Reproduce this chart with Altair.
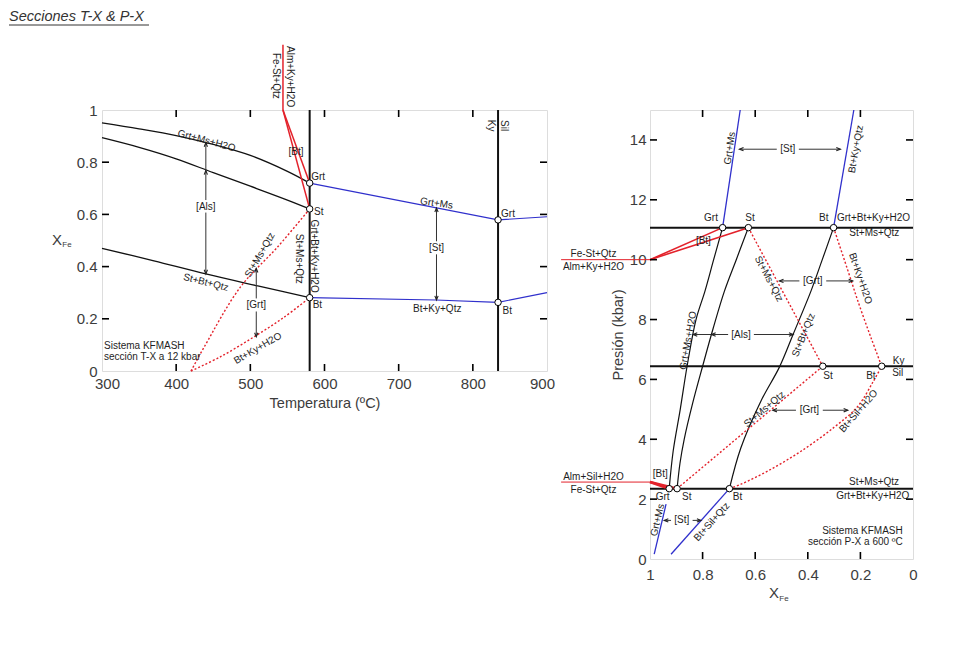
import altair as alt
import pandas as pd

FONT = "Liberation Sans"
INK = "#1e1e1e"
AXC = "#3c3c3c"
BLUE = "#3030cc"
RED = "#e3222b"

# ================= LEFT PANEL: T-X section at 12 kbar =================
L_t_ticks = [300, 400, 500, 600, 700, 800, 900]
L_x_ticks = [0, 0.2, 0.4, 0.6, 0.8, 1]
L_inner_t = [400, 500, 600, 700, 800]
L_inner_x = [0.2, 0.4, 0.6, 0.8]

L_grt_ms_h2o_T = [300, 350, 400, 450, 500, 550, 580]
L_grt_ms_h2o_X = [0.951, 0.928, 0.902, 0.868, 0.826, 0.765, 0.720]
L_als_T = [300, 350, 400, 450, 500, 550, 580]
L_als_X = [0.894, 0.857, 0.813, 0.760, 0.708, 0.655, 0.621]
L_st_bt_qtz_T = [300, 370, 440, 510, 580]
L_st_bt_qtz_X = [0.470, 0.422, 0.372, 0.326, 0.281]
L_vert_T = [580, 834]

L_grt_ms_T = [580, 834, 900]
L_grt_ms_X = [0.720, 0.579, 0.591]
L_bt_ky_qtz_T = [580, 750, 834, 900]
L_bt_ky_qtz_X = [0.281, 0.272, 0.263, 0.300]

L_fe_st_top_T = [544, 544]
L_fe_st_top_X = [1.25, 1.0]
L_fe_st_a_T = [544, 580]
L_fe_st_a_X = [1.0, 0.720]
L_fe_st_b_T = [544, 580]
L_fe_st_b_X = [1.0, 0.621]

L_st_ms_qtz_T = [420, 438, 487, 537, 580]
L_st_ms_qtz_X = [0.0, 0.093, 0.323, 0.476, 0.621]
L_bt_ky_h2o_T = [420, 460, 505, 545, 580]
L_bt_ky_h2o_X = [0.0, 0.055, 0.131, 0.205, 0.281]

L_pts_T = [580, 580, 580, 834, 834]
L_pts_X = [0.720, 0.621, 0.281, 0.579, 0.263]

# arrow shafts: T, X, T2, X2
L_shafts = [
    [440, 0.372, 440, 0.607], [440, 0.655, 440, 0.875],
    [508, 0.131, 508, 0.228], [508, 0.278, 508, 0.393],
    [751, 0.272, 751, 0.447], [751, 0.497, 751, 0.625],
]
L_heads_T = [440, 440, 440, 508, 508, 751, 751]
L_heads_X = [0.875, 0.768, 0.372, 0.393, 0.131, 0.625, 0.272]
L_heads_dir = ["up", "up", "down", "up", "down", "up", "down"]

L_lab_c = ["Grt+Ms+H2O", "St+Bt+Qtz", "St+Ms+Qtz", "Bt+Ky+H2O", "St+Ms+Qtz",
           "Grt+Bt+Ky+H2O", "Grt+Ms", "Bt+Ky+Qtz", "[Als]", "[Grt]", "[St]",
           "[Bt]", "Ky", "Sil", "Alm+Ky+H2O", "Fe-St+Qtz"]
L_lab_c_T = [441, 440, 513, 510, 566, 585.5, 751, 752, 440, 508, 751,
             561.6, 824.5, 842.6, 554, 534.6]
L_lab_c_X = [0.882, 0.339, 0.444, 0.087, 0.43, 0.44, 0.642, 0.236, 0.63,
             0.253, 0.471, 0.84, 0.94, 0.94, 1.128, 1.131]
L_lab_c_ang = [15, 14, 300, 330, 90, 90, 8, 0, 0, 0, 0, 0, 90, 90, 90, 90]

L_lab_l = ["Grt", "St", "Bt", "Grt", "Bt", "Sistema KFMASH", "sección T-X a 12 kbar"]
L_lab_l_T = [582, 586, 584, 838, 840, 302.7, 302.7]
L_lab_l_X = [0.745, 0.61, 0.253, 0.60, 0.23, 0.096, 0.054]

# ================= RIGHT PANEL: P-X section at 600 ºC =================
R_x_ticks = [0, 0.2, 0.4, 0.6, 0.8, 1]
R_p_ticks = [0, 2, 4, 6, 8, 10, 12, 14]
R_inner_x = [0.2, 0.4, 0.6, 0.8]
R_inner_p = [2, 4, 6, 8, 10, 12, 14]

R_horiz_P = [11.07, 6.44, 2.35]

R_grt_ms_h2o_X = [0.927, 0.912, 0.885, 0.859, 0.825, 0.791, 0.758, 0.724]
R_grt_ms_h2o_P = [2.35, 3.6, 5.0, 6.44, 8.0, 8.95, 10.0, 11.07]
R_als2_X = [0.897, 0.886, 0.870, 0.838, 0.800, 0.760, 0.717, 0.672, 0.626]
R_als2_P = [2.35, 3.2, 4.0, 5.2, 6.44, 7.7, 8.95, 10.0, 11.07]
R_st_bt_qtz_X = [0.698, 0.655, 0.578, 0.508, 0.456, 0.388, 0.345, 0.302]
R_st_bt_qtz_P = [2.35, 3.7, 5.28, 6.41, 7.5, 8.95, 10.0, 11.07]

R_grt_ms_top_X = [0.724, 0.657]
R_grt_ms_top_P = [11.07, 15.0]
R_bt_ky_qtz_X = [0.302, 0.225]
R_bt_ky_qtz_P = [11.07, 15.0]
R_grt_ms_bot_X = [0.984, 0.939]
R_grt_ms_bot_P = [0.16, 1.83]
R_bt_sil_qtz_X = [0.920, 0.698]
R_bt_sil_qtz_P = [0.16, 2.35]

R_red_top_out_X = [1.338, 1.0]
R_red_top_out_P = [10.0, 10.0]
R_red_top_a_X = [1.0, 0.724]
R_red_top_a_P = [10.0, 11.07]
R_red_top_b_X = [1.0, 0.626]
R_red_top_b_P = [10.0, 11.07]
R_red_bot_out_X = [1.338, 1.0]
R_red_bot_out_P = [2.57, 2.57]
R_red_bot_a_X = [1.0, 0.927]
R_red_bot_a_P = [2.57, 2.35]
R_red_bot_b_X = [1.0, 0.897]
R_red_bot_b_P = [2.57, 2.35]

R_dot1_X = [0.897, 0.343]
R_dot1_P = [2.35, 6.44]
R_dot2_X = [0.698, 0.654, 0.55, 0.426, 0.30, 0.21, 0.153, 0.119]
R_dot2_P = [2.35, 2.5, 2.95, 3.6, 4.4, 5.1, 5.9, 6.44]
R_dot3_X = [0.626, 0.343]
R_dot3_P = [11.07, 6.44]
R_dot4_X = [0.302, 0.25, 0.205, 0.16, 0.119]
R_dot4_P = [11.07, 9.7, 8.5, 7.4, 6.44]

R_pts_X = [0.724, 0.626, 0.302, 0.343, 0.119, 0.927, 0.897, 0.698]
R_pts_P = [11.07, 11.07, 11.07, 6.44, 6.44, 2.35, 2.35, 2.35]

R_shafts = [
    [0.660, 13.69, 0.518, 13.69], [0.434, 13.69, 0.276, 13.69],
    [0.508, 9.29, 0.432, 9.29], [0.330, 9.29, 0.229, 9.29],
    [0.533, 4.97, 0.445, 4.97], [0.343, 4.97, 0.248, 4.97],
    [0.946, 1.29, 0.920, 1.29], [0.838, 1.29, 0.806, 1.29],
    [0.836, 7.5, 0.703, 7.5], [0.605, 7.5, 0.456, 7.5],
]
R_heads_X = [0.660, 0.276, 0.508, 0.229, 0.533, 0.248, 0.946, 0.806, 0.836, 0.766, 0.456]
R_heads_P = [13.69, 13.69, 9.29, 9.29, 4.97, 4.97, 1.29, 1.29, 7.5, 7.5, 7.5]
R_heads_dir = ["left", "right", "left", "right", "left", "right", "left", "right",
               "left", "left", "right"]

R_lab_c = ["Grt+Ms", "Bt+Ky+Qtz", "[St]", "Grt", "St", "Bt", "St+Ms+Qtz", "[Bt]",
           "Fe-St+Qtz", "Alm+Ky+H2O", "St+Ms+Qtz", "Bt+Ky+H2O", "[Grt]",
           "Grt+Ms+H2O", "[Als]", "St+Bt+Qtz", "Ky", "Sil", "St", "Bt",
           "St+Ms+Qtz", "[Grt]", "Bt+Sil+H2O", "[Bt]", "Alm+Sil+H2O", "Fe-St+Qtz",
           "Grt", "St", "Bt", "[St]", "Grt+Ms", "Bt+Sil+Qtz"]
R_lab_c_X = [0.696, 0.217, 0.476, 0.768, 0.62, 0.339, 0.147, 0.797,
             1.215, 1.215, 0.548, 0.2, 0.381,
             0.855, 0.654, 0.416, 0.055, 0.058, 0.323, 0.16,
             0.565, 0.394, 0.207, 0.961, 1.215, 1.215,
             0.952, 0.86, 0.667, 0.879, 0.971, 0.765]
R_lab_c_P = [13.72, 13.69, 13.69, 11.38, 11.38, 11.38, 10.9, 10.62,
             10.2, 9.77, 9.36, 9.37, 9.29,
             7.3, 7.5, 7.48, 6.62, 6.23, 6.13, 6.13,
             5.0, 4.97, 4.94, 2.83, 2.75, 2.3,
             2.08, 2.08, 2.08, 1.29, 1.3, 1.24]
R_lab_c_ang = [278, 280, 0, 0, 0, 0, 0, 0,
               0, 0, 62, 71, 0,
               280, 0, 292, 0, 0, 0, 0,
               320, 0, 311, 0, 0, 0,
               0, 0, 0, 0, 283, 312]

R_lab_l = ["Grt+Bt+Ky+H2O"]
R_lab_l_X = [0.289]
R_lab_l_P = [11.38]

R_lab_r = ["St+Ms+Qtz", "Grt+Bt+Ky+H2O", "Sistema KFMASH", "sección P-X a 600 ºC"]
R_lab_r_X = [0.053, 0.014, 0.039, 0.039]
R_lab_r_P = [2.57, 2.1, 0.936, 0.58]

# ================= helpers =================
HEAD_PATHS = {
    "up": "M-0.6,1.5L0,0L0.6,1.5",
    "down": "M-0.6,-1.5L0,0L0.6,-1.5",
    "left": "M1.5,-0.6L0,0L1.5,0.6",
    "right": "M-1.5,-0.6L0,0L-1.5,0.6",
}


def series_df(series):
    rows = []
    for name, hs, vs in series:
        for i, (a, b) in enumerate(zip(hs, vs)):
            rows.append({"id": name, "ord": i, "h": a, "v": b})
    return pd.DataFrame(rows)


def lines(series, H, V, color, width, dash=None, interp="linear"):
    kw = dict(color=color, strokeWidth=width, clip=False, interpolate=interp)
    if dash:
        kw["strokeDash"] = dash
    return alt.Chart(series_df(series)).mark_line(**kw).encode(
        x=H, y=V, detail="id:N", order="ord:Q")


def texts(labels, hs, vs, angs, H, V, align, size=10):
    df = pd.DataFrame({"label": labels, "h": hs, "v": vs, "ang": angs})
    return alt.Chart(df).mark_text(
        align=align, baseline="middle", fontSize=size, color=INK, font=FONT, clip=False
    ).encode(x=H, y=V, text="label:N", angle=alt.Angle("ang:Q", scale=None))


def shafts(segs, H, V):
    df = pd.DataFrame(segs, columns=["h", "v", "h2", "v2"])
    return alt.Chart(df).mark_rule(color="#333333", strokeWidth=1, clip=False).encode(
        x=H, y=V, x2=alt.X2("h2:Q"), y2=alt.Y2("v2:Q"))


def heads(hs, vs, dirs, H, V):
    df = pd.DataFrame({"h": hs, "v": vs, "dir": dirs})
    dom = list(HEAD_PATHS.keys())
    return alt.Chart(df).mark_point(
        filled=False, color="#222222", strokeWidth=1.1, size=30, opacity=1, clip=False
    ).encode(x=H, y=V, shape=alt.Shape("dir:N", scale=alt.Scale(
        domain=dom, range=[HEAD_PATHS[k] for k in dom]), legend=None))


def nodes(hs, vs, H, V):
    df = pd.DataFrame({"h": hs, "v": vs})
    return alt.Chart(df).mark_point(
        shape="circle", filled=True, fill="white", stroke="black", strokeWidth=1,
        size=42, opacity=1, clip=False).encode(x=H, y=V)


def inner_ticks(vals, H, V, W, Ht, L=7):
    dfh = pd.DataFrame({"h": vals[0]})
    dfv = pd.DataFrame({"v": vals[1]})
    rk = dict(color="black", strokeWidth=1.6)
    return [
        alt.Chart(dfh).mark_rule(**rk).encode(x=H, y=alt.value(Ht), y2=alt.value(Ht - L)),
        alt.Chart(dfh).mark_rule(**rk).encode(x=H, y=alt.value(0), y2=alt.value(L)),
        alt.Chart(dfv).mark_rule(**rk).encode(y=V, x=alt.value(0), x2=alt.value(L)),
        alt.Chart(dfv).mark_rule(**rk).encode(y=V, x=alt.value(W), x2=alt.value(W - L)),
    ]


def pix_text(txt, x, y, size, align="center", style="normal", color=INK):
    return alt.Chart(pd.DataFrame({"label": [txt]})).mark_text(
        align=align, baseline="middle", fontSize=size, fontStyle=style, color=color,
        font=FONT).encode(x=alt.value(x), y=alt.value(y), text="label:N")


axis_common = dict(ticks=False, domain=False, grid=False, labelFont=FONT,
                   labelFontSize=15, labelColor=AXC,
                   labelOverlap=False, titleFont=FONT, titleFontWeight="normal",
                   titleColor=AXC, titleFontSize=14.5)

# ================= LEFT CHART =================
LW, LH = 445, 261
HL = alt.X("h:Q", scale=alt.Scale(domain=[300, 900], nice=False, zero=False),
           axis=alt.Axis(values=L_t_ticks, format="d", labelPadding=5, labelFlush=True,
                         labelFlushOffset=7.5,
                         title="Temperatura (ºC)", titlePadding=5, **axis_common))
VL = alt.Y("v:Q", scale=alt.Scale(domain=[0, 1], nice=False),
           axis=alt.Axis(values=L_x_ticks, format="~g", labelPadding=5, title=None,
                         labelFlush=False, **axis_common))

left_layers = [
    lines([("a", L_grt_ms_h2o_T, L_grt_ms_h2o_X), ("b", L_als_T, L_als_X),
           ("c", L_st_bt_qtz_T, L_st_bt_qtz_X)], HL, VL, "#111111", 1.3,
          interp="catmull-rom"),
    lines([("v1", [L_vert_T[0]] * 2, [0, 1]), ("v2", [L_vert_T[1]] * 2, [0, 1])],
          HL, VL, "#111111", 2),
    lines([("g", L_grt_ms_T, L_grt_ms_X), ("k", L_bt_ky_qtz_T, L_bt_ky_qtz_X)],
          HL, VL, BLUE, 1.2),
    lines([("t", L_fe_st_top_T, L_fe_st_top_X), ("a", L_fe_st_a_T, L_fe_st_a_X),
           ("b", L_fe_st_b_T, L_fe_st_b_X)], HL, VL, RED, 1.5),
    lines([("s", L_st_ms_qtz_T, L_st_ms_qtz_X), ("k", L_bt_ky_h2o_T, L_bt_ky_h2o_X)],
          HL, VL, RED, 1.4, dash=[2, 2], interp="catmull-rom"),
    shafts(L_shafts, HL, VL),
    heads(L_heads_T, L_heads_X, L_heads_dir, HL, VL),
    texts(L_lab_c, L_lab_c_T, L_lab_c_X, L_lab_c_ang, HL, VL, "center"),
    texts(L_lab_l, L_lab_l_T, L_lab_l_X, [0] * len(L_lab_l), HL, VL, "left"),
    nodes(L_pts_T, L_pts_X, HL, VL),
    pix_text("X", -45, 130, 15, color=AXC),
    pix_text("Fe", -35, 135, 8, color=AXC),
    pix_text("Secciones T-X & P-X", -93, -93, 14.5, align="left", style="italic",
             color="#333333"),
    alt.Chart(pd.DataFrame({"k": [0]})).mark_rule(color="#333333", strokeWidth=1).encode(
        x=alt.value(-93), x2=alt.value(47), y=alt.value(-85)),
] + inner_ticks((L_inner_t, L_inner_x), HL, VL, LW, LH)

left = alt.layer(*left_layers).properties(width=LW, height=LH)

# ================= RIGHT CHART =================
RW, RH = 263, 449
HR = alt.X("h:Q", scale=alt.Scale(domain=[0, 1], reverse=True, nice=False, zero=False),
           axis=alt.Axis(values=R_x_ticks, format="~g", labelPadding=8, title=None,
                         labelFlush=False, **axis_common))
VR = alt.Y("v:Q", scale=alt.Scale(domain=[0, 15], nice=False),
           axis=alt.Axis(values=R_p_ticks, format="d", labelPadding=4,
                         title="Presión (kbar)", titlePadding=4, labelFlush=False,
                         **axis_common))

right_layers = [
    lines([("h%d" % i, [1, 0], [p, p]) for i, p in enumerate(R_horiz_P)],
          HR, VR, "#111111", 2),
    lines([("a", R_grt_ms_h2o_X, R_grt_ms_h2o_P), ("b", R_als2_X, R_als2_P),
           ("c", R_st_bt_qtz_X, R_st_bt_qtz_P)], HR, VR, "#111111", 1.2,
          interp="catmull-rom"),
    lines([("a", R_grt_ms_top_X, R_grt_ms_top_P), ("b", R_bt_ky_qtz_X, R_bt_ky_qtz_P),
           ("c", R_grt_ms_bot_X, R_grt_ms_bot_P), ("d", R_bt_sil_qtz_X, R_bt_sil_qtz_P)],
          HR, VR, BLUE, 1.3),
    lines([("o1", R_red_top_out_X, R_red_top_out_P), ("o2", R_red_bot_out_X, R_red_bot_out_P)],
          HR, VR, RED, 1.0),
    lines([("a", R_red_top_a_X, R_red_top_a_P), ("b", R_red_top_b_X, R_red_top_b_P)],
          HR, VR, RED, 1.6),
    lines([("a", R_red_bot_a_X, R_red_bot_a_P), ("b", R_red_bot_b_X, R_red_bot_b_P)],
          HR, VR, RED, 2.6),
    lines([("d1", R_dot1_X, R_dot1_P), ("d2", R_dot2_X, R_dot2_P),
           ("d3", R_dot3_X, R_dot3_P), ("d4", R_dot4_X, R_dot4_P)],
          HR, VR, RED, 1.4, dash=[2, 2], interp="catmull-rom"),
    shafts(R_shafts, HR, VR),
    heads(R_heads_X, R_heads_P, R_heads_dir, HR, VR),
    texts(R_lab_c, R_lab_c_X, R_lab_c_P, R_lab_c_ang, HR, VR, "center"),
    texts(R_lab_l, R_lab_l_X, R_lab_l_P, [0] * len(R_lab_l), HR, VR, "left"),
    texts(R_lab_r, R_lab_r_X, R_lab_r_P, [0] * len(R_lab_r), HR, VR, "right"),
    nodes(R_pts_X, R_pts_P, HR, VR),
    pix_text("X", 124, 483, 15, color=AXC),
    pix_text("Fe", 134, 489, 8, color=AXC),
] + inner_ticks((R_inner_x, R_inner_p), HR, VR, RW, RH)

right = alt.layer(*right_layers).properties(width=RW, height=RH)

chart = alt.hconcat(left, right, spacing=103, bounds="flush").properties(
    padding={"left": 0, "top": 0, "right": 4, "bottom": 4}
).configure_view(stroke="black", strokeWidth=2).configure(font=FONT)

chart.save("out.html", embed_options={"renderer": "svg", "actions": False})
